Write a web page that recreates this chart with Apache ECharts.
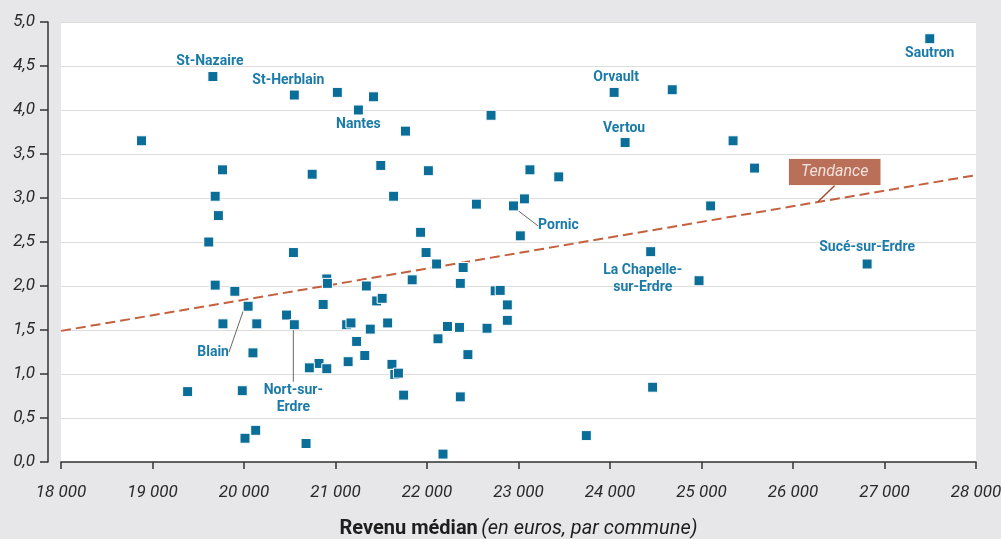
<!DOCTYPE html>
<html>
<head>
<meta charset="utf-8">
<script src="https://cdn.jsdelivr.net/npm/echarts@6/dist/echarts.min.js"></script>
<style>
html,body{margin:0;padding:0;background:#e7e7e9;}
#c{width:1001px;height:539px;}
</style>
</head>
<body>
<div id="c"></div>
<script>
// ---- Data ----
const revenu = [
  18880, 19660, 20550, 21020, 21415, 21250, 21765, 22700, 19765, 20745,
  21495, 22015, 19685, 19720, 21635, 22540, 19615, 20540, 21930, 21990,
  22105, 22395, 27495, 24045, 24680, 24165, 25345, 25580, 23125, 23440,
  23065, 22945, 25100, 23020, 24445, 26810, 19685, 19900, 20905, 20912,
  20045, 19770, 20140, 20098, 20465, 20550, 20865, 21337, 21450, 21510,
  21838, 22364, 22745, 22800, 21122, 21169, 21231, 21380, 21570, 21320,
  21138, 20820, 20714, 20905, 21617, 21648, 21688, 21745, 22120, 22224,
  22355, 22447, 22656, 22364, 22175, 19384, 19981, 20011, 20128, 20678,
  24973, 22878, 22878, 24466, 23741
];
const valeurs = [
  3.65, 4.38, 4.17, 4.20, 4.15, 4.00, 3.76, 3.94, 3.32, 3.27,
  3.37, 3.31, 3.02, 2.80, 3.02, 2.93, 2.50, 2.38, 2.61, 2.38,
  2.25, 2.21, 4.81, 4.20, 4.23, 3.63, 3.65, 3.34, 3.32, 3.24,
  2.99, 2.91, 2.91, 2.57, 2.39, 2.25, 2.01, 1.94, 2.08, 2.03,
  1.77, 1.57, 1.57, 1.24, 1.67, 1.56, 1.79, 2.00, 1.83, 1.86,
  2.07, 2.03, 1.945, 1.95, 1.56, 1.58, 1.37, 1.51, 1.58, 1.21,
  1.14, 1.12, 1.07, 1.06, 1.11, 0.995, 1.01, 0.76, 1.40, 1.54,
  1.53, 1.22, 1.52, 0.74, 0.09, 0.80, 0.81, 0.27, 0.36, 0.21,
  2.06, 1.785, 1.61, 0.85, 0.30
];
const communes = [
  '', 'St-Nazaire', 'St-Herblain', '', '', 'Nantes', '', '', '', '',
  '', '', '', '', '', '', '', '', '', '',
  '', '', 'Sautron', 'Orvault', '', 'Vertou', '', '', '', '',
  '', 'Pornic', '', '', 'La Chapelle-\nsur-Erdre', 'Sucé-sur-Erdre', '', '', '', '',
  'Blain', '', '', '', '', 'Nort-sur-\nErdre', '', '', '', '',
  '', '', '', '', '', '', '', '', '', '',
  '', '', '', '', '', '', '', '', '', '',
  '', '', '', '', '', '', '', '', '', '',
  '', '', '', '', ''
];
const trendX = [18000, 28000];
const trendY = [1.49, 3.26];
const trendLabel = 'Tendance';
const trendAnchor = [26270, 2.955];
const xTicks = { min: 18000, max: 28000, interval: 1000 };
const yTicks = { min: 0, max: 5, interval: 0.5 };

// ---- Style (label placement) ----
const labelOffsets = {
  'St-Nazaire': [-3, -15], 'St-Herblain': [-6, -15], 'Nantes': [0, 14],
  'Orvault': [2, -15], 'Vertou': [-1, -14], 'Sautron': [0, 15],
  'Sucé-sur-Erdre': [0, -17], 'La Chapelle-\nsur-Erdre': [-8, 27],
  'Pornic': [45, 20], 'Blain': [-35, 46], 'Nort-sur-\nErdre': [-1, 74]
};
const withLeader = { 'Pornic': 1, 'Blain': 1, 'Nort-sur-\nErdre': 1 };

const FONT = 'Roboto';
const BLUE = '#0b6e99';
const LBLUE = '#1b7ba8';

const points = revenu.map((x, i) => {
  const n = communes[i];
  return {
    value: [x, valeurs[i]],
    name: n,
    label: { show: !!n },
    labelLine: { show: !!withLeader[n] }
  };
});

const chart = echarts.init(document.getElementById('c'), null, { renderer: 'canvas' });
chart.setOption({
  backgroundColor: '#e7e7e9',
  animation: false,
  grid: {
    left: 61, right: 25, top: 22, bottom: 77,
    show: true, backgroundColor: '#ffffff', borderWidth: 0,
    containLabel: false, outerBoundsMode: 'none'
  },
  xAxis: {
    type: 'value', min: xTicks.min, max: xTicks.max, interval: xTicks.interval,
    offset: 12.5,
    axisLine: { show: true, lineStyle: { color: '#333', width: 1.5 } },
    axisTick: { show: true, length: 7, lineStyle: { color: '#333', width: 1.5 } },
    splitLine: { show: false },
    axisLabel: {
      margin: 10, fontFamily: FONT, fontStyle: 'italic', fontSize: 17, color: '#2a2a2a',
      formatter: v => String(v).replace(/(\d{2})(\d{3})$/, '$1 $2')
    },
    name: '{b|Revenu médian} {i|(en euros, par commune)}',
    nameLocation: 'middle', nameGap: 44,
    nameTextStyle: {
      rich: {
        b: { fontFamily: FONT, fontWeight: 'bold', fontSize: 20, color: '#1e1e1e' },
        i: { fontFamily: FONT, fontStyle: 'italic', fontSize: 20, color: '#1e1e1e' }
      }
    }
  },
  yAxis: {
    type: 'value', min: yTicks.min, max: yTicks.max, interval: yTicks.interval,
    offset: 13,
    axisLine: { show: true, lineStyle: { color: '#333', width: 1.5 } },
    axisTick: { show: true, length: 8, lineStyle: { color: '#333', width: 1.5 } },
    splitLine: { show: true, lineStyle: { color: '#dddddd', width: 1.2 } },
    axisLabel: {
      margin: 13, fontFamily: FONT, fontStyle: 'italic', fontSize: 17, color: '#2a2a2a',
      formatter: v => v.toFixed(1).replace('.', ',')
    }
  },
  series: [
    {
      type: 'line', z: 2, silent: true, symbol: 'none',
      data: trendX.map((x, i) => [x, trendY[i]]),
      lineStyle: { color: '#c4603d', width: 2, type: [10, 5] }
    },
    {
      type: 'scatter', z: 4, symbol: 'rect', symbolSize: 10,
      itemStyle: { color: BLUE, borderColor: '#ffffff', borderWidth: 1, opacity: 1 },
      label: {
        show: false, position: 'inside', formatter: p => p.name,
        fontFamily: FONT, fontWeight: 'bold', fontSize: 14, color: LBLUE,
        lineHeight: 17, align: 'center', verticalAlign: 'middle'
      },
      labelLine: { show: false, lineStyle: { color: '#666', width: 1 } },
      labelLayout: p => {
        const o = labelOffsets[communes[p.dataIndex]];
        return o ? { dx: o[0], dy: o[1] } : {};
      },
      data: points
    },
    {
      type: 'scatter', z: 5, symbol: 'rect', symbolSize: 1, silent: true,
      itemStyle: { color: 'rgba(0,0,0,0)' },
      label: {
        show: true, position: 'inside', formatter: trendLabel,
        fontFamily: FONT, fontStyle: 'italic', fontSize: 16, color: '#ffffff',
        backgroundColor: '#a94b2e', padding: [5, 12, 5, 12], borderColor: '#f3e3dc', borderWidth: 0.5
      },
      labelLine: { show: true, lineStyle: { color: '#a94b2e', width: 1.5 } },
      labelLayout: { dx: 17, dy: -30 },
      data: [trendAnchor]
    }
  ]
});
</script>
</body>
</html>
